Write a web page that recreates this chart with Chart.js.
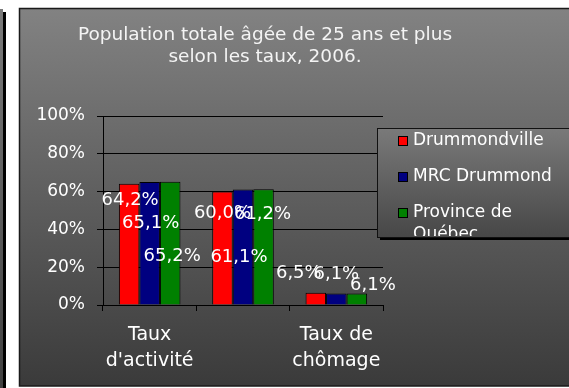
<!DOCTYPE html>
<html>
<head>
<meta charset="utf-8">
<script src="https://cdn.jsdelivr.net/npm/chart.js@4.4.1/dist/chart.umd.min.js"></script>
<style>
  html, body { margin: 0; padding: 0; background: #fff; }
  #wrap { width: 569px; height: 388px; position: relative; }
</style>
</head>
<body>
<div id="wrap"><canvas id="chart"></canvas></div>
<script>
const titleLines = ["Population totale âgée de 25 ans et plus", "selon les taux, 2006."];
const categories = [["Taux", "d'activité"], ["Taux", "d'emploi"], ["Taux de", "chômage"]];
const seriesNames = ["Drummondville", "MRC Drummond", "Province de Québec"];
const drummondville = [64.2, 60.0, 6.5];
const mrcDrummond = [65.1, 61.1, 6.1];
const provinceQuebec = [65.2, 61.2, 6.1];
const yTicks = [0, 20, 40, 60, 80, 100];

const FONT = "DejaVu Sans";
const colors = ["#ff0000", "#000080", "#008000"];

// where each value label sits, relative to the top centre of its bar
const labelOffsets = [
  [[1, 17], [0, 22], [-17, -19]],
  [[1, 41], [-4, 68], [0, -19]],
  [[2, 75], [-1, 25], [16, -8]],
];

const fmt = (v) => v.toFixed(1).replace(".", ",") + "%";

const frame = {
  id: "frame",
  beforeDraw(chart) {
    const c = chart.ctx;
    const W = chart.width, H = chart.height;
    c.save();
    c.fillStyle = "#fff";
    c.fillRect(0, 0, W, H);

    // neighbouring panel at the left edge
    let g = c.createLinearGradient(0, 10, 0, H);
    g.addColorStop(0, "#7a7a7a");
    g.addColorStop(1, "#404040");
    c.fillStyle = g;
    c.fillRect(0, 9, 3, H);
    c.fillStyle = "#000";
    c.fillRect(3, 12, 3, H);

    // main panel
    g = c.createLinearGradient(0, 9, 0, H);
    g.addColorStop(0, "#828282");
    g.addColorStop(1, "#3a3a3a");
    c.fillStyle = g;
    c.fillRect(19, 8, W, H - 10);
    c.strokeStyle = "#1a1a1a";
    c.lineWidth = 1.5;
    c.strokeRect(19.5, 8.5, W + 10, H - 10.5);

    c.fillStyle = "#f4f4f4";
    c.font = "18.5px '" + FONT + "'";
    c.textAlign = "center";
    c.textBaseline = "middle";
    c.fillText(titleLines[0], 265, 35);
    c.fillText(titleLines[1], 265, 57);
    c.restore();
  },
  afterDatasetsDraw(chart) {
    const c = chart.ctx;
    c.save();
    c.fillStyle = "#fff";
    c.font = "18px '" + FONT + "'";
    c.textAlign = "center";
    c.textBaseline = "middle";
    chart.data.datasets.forEach((ds, i) => {
      chart.getDatasetMeta(i).data.forEach((bar, j) => {
        const [dx, dy] = labelOffsets[i][j];
        c.fillText(fmt(ds.data[j]), bar.x + dx, bar.y + dy);
      });
    });
    c.restore();
  },
  afterDraw(chart) {
    const c = chart.ctx;
    const left = 377, top = 128, bottom = 237, right = chart.width + 20;
    c.save();
    c.fillStyle = "#000";
    c.fillRect(left + 3, top + 3, right - left, bottom - top);
    const g = c.createLinearGradient(0, top, 0, bottom);
    g.addColorStop(0, "#7a7a7a");
    g.addColorStop(1, "#474747");
    c.fillStyle = g;
    c.fillRect(left, top, right - left, bottom - top);
    c.strokeStyle = "#111";
    c.lineWidth = 1;
    c.strokeRect(left + 0.5, top + 0.5, right - left, bottom - top);

    c.beginPath();
    c.rect(left + 1, top + 1, right - left, bottom - top - 2);
    c.clip();

    c.font = "17px '" + FONT + "'";
    c.textBaseline = "middle";
    c.textAlign = "left";
    let y = 141;
    chart.data.datasets.forEach((ds, i) => {
      c.fillStyle = ds.backgroundColor;
      c.fillRect(398, y - 5, 10, 10);
      c.strokeStyle = "#000";
      c.strokeRect(398.5, y - 4.5, 9, 9);
      // wrap the name inside the box
      const lines = [];
      let cur = "";
      ds.label.split(" ").forEach((w) => {
        const t = cur ? cur + " " + w : w;
        if (c.measureText(t).width > 140 && cur) { lines.push(cur); cur = w; } else cur = t;
      });
      lines.push(cur);
      c.fillStyle = "#fff";
      lines.forEach((ln, k) => c.fillText(ln, 413, y + k * 22));
      y += 36;
    });
    c.restore();
  },
};

const datasets = [drummondville, mrcDrummond, provinceQuebec].map((data, i) => ({
  label: seriesNames[i],
  data: data,
  backgroundColor: colors[i],
  borderColor: "#000",
  borderWidth: 1,
  categoryPercentage: 0.66,
  barPercentage: 1.0,
}));

new Chart(document.getElementById("chart"), {
  type: "bar",
  data: { labels: categories, datasets: datasets },
  plugins: [frame],
  options: {
    responsive: true,
    maintainAspectRatio: false,
    animation: false,
    layout: { padding: { left: 30, top: 116, right: 186, bottom: 0 } },
    scales: {
      x: {
        afterFit: (s) => { s.height = 83; },
        border: { color: "#000", width: 1 },
        grid: { drawOnChartArea: false, drawTicks: true, tickLength: 6, offset: true, color: "#000" },
        ticks: {
          color: "#fff",
          font: { family: FONT, size: 19, lineHeight: "26px" },
          padding: 11,
          maxRotation: 0,
          autoSkip: false,
          callback: function (value, index) {
            // the middle category name is left off the axis
            return index === 1 ? "" : this.getLabelForValue(value);
          },
        },
      },
      y: {
        min: 0,
        max: 100,
        afterFit: (s) => { s.width = 73; },
        afterBuildTicks: (s) => { s.ticks = yTicks.map((v) => ({ value: v })); },
        border: { color: "#000", width: 1 },
        grid: { color: "#000", tickLength: 6 },
        ticks: {
          color: "#fff",
          font: { family: FONT, size: 17 },
          padding: 12,
          callback: (value) => value + "%",
        },
      },
    },
    plugins: {
      legend: { display: false },
      title: { display: false },
      tooltip: { enabled: false },
    },
  },
});
</script>
</body>
</html>
